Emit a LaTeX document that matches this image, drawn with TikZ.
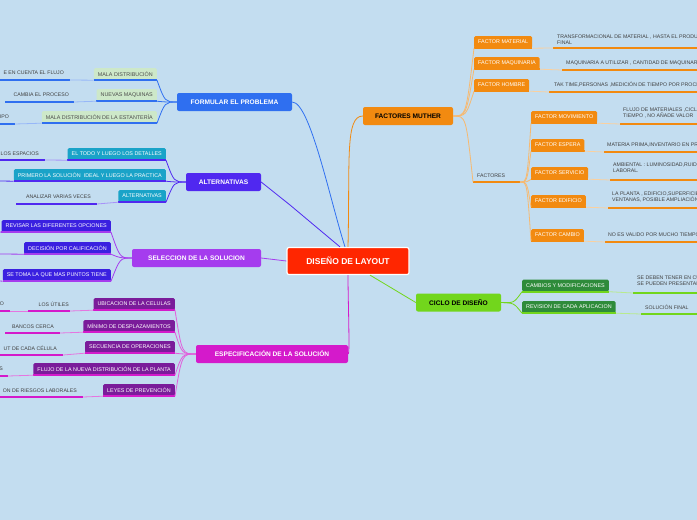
\documentclass[tikz,border=0pt]{standalone}
\usepackage{fontspec}
\setmainfont{Liberation Sans}
\begin{document}
\begin{tikzpicture}[x=1pt,y=-1pt,
  main/.style={draw=white,line width=1.2pt,fill=red!70!orange,text=white,font=\fontsize{8.5}{9}\selectfont\bfseries,rounded corners=2pt,minimum width=122pt,minimum height=27pt},
  branch/.style={fill=#1,text=white,font=\fontsize{6.6}{7}\selectfont\bfseries,rounded corners=2pt,minimum height=18pt,inner xsep=6pt},
  leaf/.style={fill=#1,text=white,font=\fontsize{5.4}{6}\selectfont,rounded corners=1.5pt,minimum height=12pt,inner xsep=4pt},
  txt/.style={text=black!75,font=\fontsize{5.2}{6.2}\selectfont,align=left,inner sep=1pt},
  ul/.style={line width=2pt,draw=#1},
  cn/.style={line width=0.8pt,draw=#1}]
\definecolor{bg}{HTML}{C3DDF0}
\definecolor{cBlue}{HTML}{2F6FF0}
\definecolor{cInd}{HTML}{5028F0}
\definecolor{cVio}{HTML}{A53CEE}
\definecolor{cMag}{HTML}{D41ACB}
\definecolor{cGrn}{HTML}{72D61C}
\definecolor{cOr}{HTML}{F28A10}
\definecolor{lGreen}{HTML}{CDE8C9}
\definecolor{cTeal}{HTML}{1AA3C8}
\definecolor{cBP}{HTML}{3A20E0}
\definecolor{cDP}{HTML}{7A1C9A}
\definecolor{cDG}{HTML}{2E8B3A}
\useasboundingbox (0,0) rectangle (697,520);
\fill[bg] (0,0) rectangle (697,520);
\clip (0,0) rectangle (697,520);
% main
\node[main] (c) at (348,261) {DISEÑO DE LAYOUT};
\node[branch=cOr,minimum width=90pt,text=black] (fm) at (408,116) {FACTORES MUTHER};
\node[branch=cBlue,minimum width=115pt] (fp) at (234.5,102) {FORMULAR EL PROBLEMA};
\node[branch=cInd,minimum width=75pt] (al) at (223.5,182) {ALTERNATIVAS};
\node[branch=cVio,minimum width=129pt] (ss) at (196.5,258) {SELECCION DE LA SOLUCION};
\node[branch=cMag,minimum width=152pt] (es) at (272,354) {ESPECIFICACIÓN DE LA SOLUCIÓN};
\node[branch=cGrn,minimum width=85pt,text=black] (cd) at (458.5,302.5) {CICLO DE DISEÑO};
\draw[cn=cOr] (c.north) .. controls (350,160) and (345,116) .. (fm.west);
\draw[cn=cBlue] ([xshift=-3pt]c.north) .. controls (330,200) and (310,102) .. (fp.east);
\draw[cn=cInd] ([xshift=-8pt]c.north) -- (290,205) -- (al.east);
\draw[cn=cVio] (c.west) -- (ss.east);
\draw[cn=cMag] (c.south) .. controls (348,300) and (350,354) .. (es.east);
\draw[cn=cGrn] ([xshift=22pt]c.south) -- (cd.west);
\newcommand\lleaf[6]{\node[leaf=#5,text=#6,anchor=east] (#1) at (#2,#3) {#4};}
% FORMULAR
\lleaf{f1}{157}{74}{MALA DISTRIBUCIÓN}{lGreen}{black!70}
\lleaf{f2}{157}{95}{NUEVAS MAQUINAS}{lGreen}{black!70}
\lleaf{f3}{157}{117}{MALA DISTRIBUCIÓN DE LA ESTANTERÍA}{lGreen}{black!70}
\foreach \n in {f1,f2,f3}{\draw[ul=cBlue] (\n.south west) -- (\n.south east);
  \draw[cn=cBlue] (fp.west) .. controls (165,102) .. (\n.south east);}
\node[txt,anchor=east] at (65,73) {E EN CUENTA EL FLUJO};
\node[txt,anchor=east] at (70,95) {CAMBIA EL PROCESO};
\node[txt,anchor=east] at (10,117) {IPO};
\draw[ul=cBlue] (0,80) -- (70,80); \draw[cn=cBlue!50] (70,80) -- (f1.south west);
\draw[ul=cBlue] (5,102) -- (74,102); \draw[cn=cBlue!50] (74,102) -- (f2.south west);
\draw[ul=cBlue] (0,124) -- (15,124); \draw[cn=cBlue!50] (15,124) -- (f3.south west);
% ALTERNATIVAS
\lleaf{a1}{166}{154}{EL TODO Y LUEGO LOS DETALLES}{cTeal}{white}
\lleaf{a2}{166}{175}{PRIMERO LA SOLUCIÓN\ \ IDEAL Y LUEGO LA PRACTICA}{cTeal}{white}
\lleaf{a3}{166}{196}{ALTERNATIVAS}{cTeal}{white}
\foreach \n in {a1,a2,a3}{\draw[ul=cInd] (\n.south west) -- (\n.south east);
  \draw[cn=cInd] (al.west) .. controls (174,182) .. (\n.south east);}
\node[txt,anchor=east] at (40,154) {LOS ESPACIOS};
\node[txt,anchor=east] at (92,197) {ANALIZAR VARIAS VECES};
\draw[ul=cInd] (0,160) -- (45,160); \draw[cn=cInd!50] (45,160) -- (a1.south west);
\draw[cn=cInd] (0,181) -- (a2.south west);
\draw[ul=cInd] (16,204) -- (97,204); \draw[cn=cInd!50] (97,204) -- (a3.south west);
% SELECCION
\lleaf{s1}{111}{226}{REVISAR LAS DIFERENTES OPCIONES}{cBP}{white}
\lleaf{s2}{111}{248}{DECISIÓN POR CALIFICACIÓN}{cBP}{white}
\lleaf{s3}{111}{275}{SE TOMA LA QUE MAS PUNTOS TIENE}{cBP}{white}
\foreach \n in {s1,s2,s3}{\draw[ul=cVio] (\n.south west) -- (\n.south east);
  \draw[cn=cVio] (ss.west) .. controls (120,258) .. (\n.south east);}
\draw[cn=cVio] (0,232) -- (s1.south west);
\draw[cn=cVio] (0,254) -- (s2.south west);
\draw[cn=cVio] (0,281) -- (s3.south west);
% ESPECIFICACION
\lleaf{e1}{175}{304}{UBICACION DE LA CELULAS}{cDP}{white}
\lleaf{e2}{175}{326}{MÍNIMO DE DESPLAZAMIENTOS}{cDP}{white}
\lleaf{e3}{175}{347}{SECUENCIA DE OPERACIONES}{cDP}{white}
\lleaf{e4}{175}{369}{FLUJO DE LA NUEVA DISTRIBUCIÓN DE LA PLANTA}{cDP}{white}
\lleaf{e5}{175}{390}{LEYES DE PREVENCIÓN}{cDP}{white}
\foreach \n in {e1,e2,e3,e4,e5}{\draw[ul=cMag] (\n.south west) -- (\n.south east);
  \draw[cn=cMag!70] (es.west) .. controls (182,354) .. (\n.south east);}
\node[txt,anchor=east] at (70,304) {LOS ÚTILES};
\node[txt,anchor=east] at (5,304) {O};
\node[txt,anchor=east] at (55,327) {BANCOS CERCA};
\node[txt,anchor=east] at (58,348) {UT DE CADA CÉLULA};
\node[txt,anchor=east] at (4,369) {S};
\node[txt,anchor=east] at (78,391) {ON DE RIESGOS LABORALES};
\draw[ul=cMag] (28,311) -- (70,311); \draw[cn=cMag!60] (70,311) -- (e1.south west);
\draw[ul=cMag] (0,311) -- (10,311); \draw[cn=cMag!60] (10,311) -- (28,311);
\draw[ul=cMag] (5,333) -- (60,333); \draw[cn=cMag!60] (60,333) -- (e2.south west);
\draw[ul=cMag] (0,355) -- (63,355); \draw[cn=cMag!60] (63,355) -- (e3.south west);
\draw[ul=cMag] (0,376) -- (8,376); \draw[cn=cMag!60] (8,376) -- (e4.south west);
\draw[ul=cMag] (0,397) -- (83,397); \draw[cn=cMag!60] (83,397) -- (e5.south west);
% FACTORES MUTHER
\newcommand\rleaf[5]{\node[leaf=#5,anchor=west] (#1) at (#2,#3) {#4};}
\rleaf{m1}{474}{42}{FACTOR MATERIAL}{cOr}
\rleaf{m2}{474}{63}{FACTOR MAQUINARIA}{cOr}
\rleaf{m3}{474}{85}{FACTOR HOMBRE}{cOr}
\node[txt,anchor=west] (mf) at (476,176) {FACTORES};
\draw[ul=cOr] (473,182) -- (520,182);
\foreach \n in {m1,m2,m3}{\draw[ul=cOr] (\n.south west) -- (\n.south east);
  \draw[cn=cOr!60] (fm.east) .. controls (466,116) .. (\n.south west);}
\draw[cn=cOr!60] (fm.east) .. controls (466,116) .. (473,182);
\node[txt,anchor=west] at (556,40) {TRANSFORMACIONAL DE MATERIAL , HASTA EL PRODUCTO\\FINAL};
\node[txt,anchor=west] at (565,63) {MAQUINARIA A UTILIZAR , CANTIDAD DE MAQUINARIA};
\node[txt,anchor=west] at (553,85) {TAK TIME,PERSONAS ,MEDICIÓN DE TIEMPO POR PROCESO};
\draw[ul=cOr] (553,48) -- (697,48); \draw[cn=cOr!40] (m1.south east) -- (553,48);
\draw[ul=cOr] (562,70) -- (697,70); \draw[cn=cOr!40] (m2.south east) -- (562,70);
\draw[ul=cOr] (549,92) -- (697,92); \draw[cn=cOr!40] (m3.south east) -- (549,92);
\rleaf{g1}{531}{117}{FACTOR MOVIMIENTO}{cOr}
\rleaf{g2}{531}{145}{FACTOR ESPERA}{cOr}
\rleaf{g3}{531}{173}{FACTOR SERVICIO}{cOr}
\rleaf{g4}{531}{201}{FACTOR EDIFICIO}{cOr}
\rleaf{g5}{531}{235}{FACTOR CAMBIO}{cOr}
\foreach \n in {g1,g2,g3,g4,g5}{\draw[ul=cOr] (\n.south west) -- (\n.south east);
  \draw[cn=cOr!60] (520,182) .. controls (527,182) .. (\n.south west);}
\node[txt,anchor=west] at (622,113) {FLUJO DE MATERIALES ,CICLO DE\\TIEMPO , NO AÑADE VALOR};
\node[txt,anchor=west] at (606,145) {MATERIA PRIMA,INVENTARIO EN PROCESO};
\node[txt,anchor=west] at (612,168) {AMBIENTAL : LUMINOSIDAD,RUIDO\\LABORAL.};
\node[txt,anchor=west] at (611,197) {LA PLANTA , EDIFICIO,SUPERFICIE\\VENTANAS, POSIBLE AMPLIACIÓN};
\node[txt,anchor=west] at (607,235) {NO ES VALIDO POR MUCHO TIEMPO};
\foreach \n/\x/\y in {g1/620/124,g2/604/152,g3/610/180,g4/608/208,g5/605/242}{
  \draw[ul=cOr] (\x,\y) -- (697,\y); \draw[cn=cOr!40] (\n.south east) -- (\x,\y);}
% CICLO
\rleaf{k1}{522}{285.5}{CAMBIOS Y MODIFICACIONES}{cDG}
\rleaf{k2}{522}{307}{REVISION DE CADA APLICACION}{cDG}
\foreach \n in {k1,k2}{\draw[ul=cGrn] (\n.south west) -- (\n.south east);
  \draw[cn=cGrn] (cd.east) .. controls (514,303) .. (\n.south west);}
\node[txt,anchor=west] at (636,281) {SE DEBEN TENER EN CUENTA\\SE PUEDEN PRESENTAR};
\node[txt,anchor=west] at (644,307) {SOLUCIÓN FINAL};
\draw[ul=cGrn] (633,293) -- (697,293); \draw[cn=cGrn!50] (k1.south east) -- (633,293);
\draw[ul=cGrn] (641,314) -- (697,314); \draw[cn=cGrn!50] (k2.south east) -- (641,314);
\end{tikzpicture}
\end{document}
